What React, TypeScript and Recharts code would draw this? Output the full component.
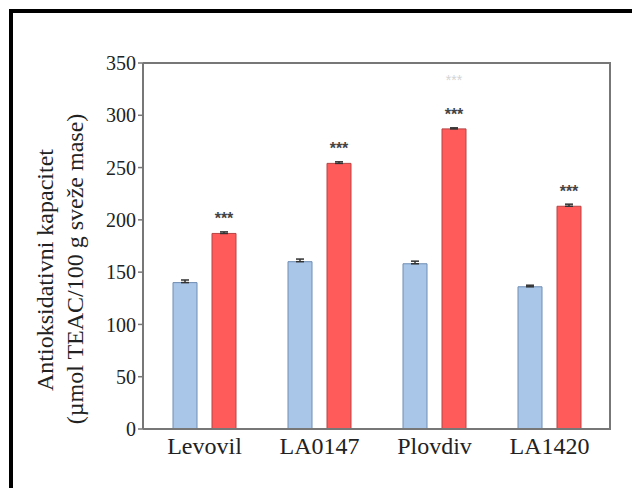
import React from 'react';
import { BarChart, Bar, XAxis, YAxis, ErrorBar, LabelList } from 'recharts';

// Sorte paradajza
const cultivars = ['Levovil', 'LA0147', 'Plovdiv', 'LA1420'];

// Antioksidativni kapacitet (µmol TEAC/100 g sveže mase)
const control = [140, 160, 158, 136];
const controlErr = [2.5, 2.5, 2.5, 1.5];
const treated = [187, 254, 287, 213];
const treatedErr = [1.5, 1.5, 1, 2];
const significance = ['***', '***', '***', '***'];
const faintMark = ['', '', '***', ''];

const yTicks = [0, 50, 100, 150, 200, 250, 300, 350];

const data = cultivars.map((name, i) => ({
    name,
    control: control[i],
    // errors drawn upward only
    controlErr: [0, controlErr[i]],
    treated: treated[i],
    treatedErr: [0, treatedErr[i]],
    sig: significance[i],
    faint: faintMark[i],
}));

const serif = '"Liberation Serif", "Times New Roman", serif';
const axisColor = '#777';

// Two-line rotated title for the value axis
const YTitle = () => (
    <g fontFamily={serif} fontSize={24} fill="#222">
        <text x={53} y={270} transform="rotate(-90, 53, 270)" textAnchor="middle">
            Antioksidativni kapacitet
        </text>
        <text x={83} y={269} transform="rotate(-90, 83, 269)" textAnchor="middle">
            (µmol TEAC/100 g sveže mase)
        </text>
    </g>
);

const Stars = (props: any) => {
    const { x, y, width, value } = props;
    if (!value) return null;
    return (
        <text
            x={x + width / 2}
            y={y - 9}
            textAnchor="middle"
            fontFamily='"Liberation Sans", Arial, sans-serif'
            fontSize={16}
            fontWeight="bold"
            fill="#444"
        >
            {value}
        </text>
    );
};

const FaintStars = (props: any) => {
    const { x, y, width, value } = props;
    if (!value) return null;
    return (
        <text
            x={x + width / 2}
            y={y - 44}
            textAnchor="middle"
            fontFamily='"Liberation Sans", Arial, sans-serif'
            fontSize={14}
            fill="#d4d4d4"
        >
            {value}
        </text>
    );
};

const App: React.FC = () => {
    return (
        <div style={{ position: 'absolute', left: 0, top: 0, width: 632, height: 488, background: '#fff' }}>
            {/* outer frame, top and left edges */}
            <div
                style={{
                    position: 'absolute',
                    left: 9,
                    top: 9,
                    width: 623,
                    height: 479,
                    borderTop: '4px solid #000',
                    borderLeft: '4px solid #000',
                    boxSizing: 'border-box',
                }}
            />
            <div style={{ position: 'absolute', left: 0, top: 0 }}>
                <BarChart
                    width={632}
                    height={488}
                    data={data}
                    margin={{ top: 63, right: 23, bottom: 0, left: 0 }}
                    barSize={24}
                    barGap={15}
                >
                    <XAxis
                        dataKey="name"
                        height={59}
                        padding={{ left: 4, right: 2 }}
                        tickLine={false}
                        tickSize={6}
                        tickMargin={2}
                        axisLine={{ stroke: axisColor, strokeWidth: 2 }}
                        tick={{ fontFamily: serif, fontSize: 24, fill: '#222' }}
                        interval={0}
                    />
                    <YAxis
                        width={143}
                        domain={[0, 350]}
                        ticks={yTicks}
                        interval={0}
                        tickSize={5}
                        tickMargin={2}
                        tickLine={{ stroke: axisColor, strokeWidth: 1.5 }}
                        axisLine={{ stroke: axisColor, strokeWidth: 2 }}
                        tick={{ fontFamily: serif, fontSize: 20, fill: '#222' }}
                        label={<YTitle />}
                    />

                    <Bar dataKey="control" fill="#a9c6e9" stroke="#6f8db3" strokeWidth={1} isAnimationActive={false}>
                        <ErrorBar dataKey="controlErr" width={4} stroke="#333" strokeWidth={1.5} />
                    </Bar>
                    <Bar dataKey="treated" fill="#ff5b5b" stroke="#b84444" strokeWidth={1} isAnimationActive={false}>
                        <ErrorBar dataKey="treatedErr" width={4} stroke="#333" strokeWidth={1.5} />
                        <LabelList dataKey="sig" content={<Stars />} />
                        <LabelList dataKey="faint" content={<FaintStars />} />
                    </Bar>
                </BarChart>
            </div>
            {/* top and right edges of the plot box */}
            <div
                style={{
                    position: 'absolute',
                    left: 143,
                    top: 62,
                    width: 468,
                    height: 368,
                    borderTop: `2px solid ${axisColor}`,
                    borderRight: `2px solid ${axisColor}`,
                    boxSizing: 'border-box',
                    pointerEvents: 'none',
                }}
            />
        </div>
    );
};

export default App;
